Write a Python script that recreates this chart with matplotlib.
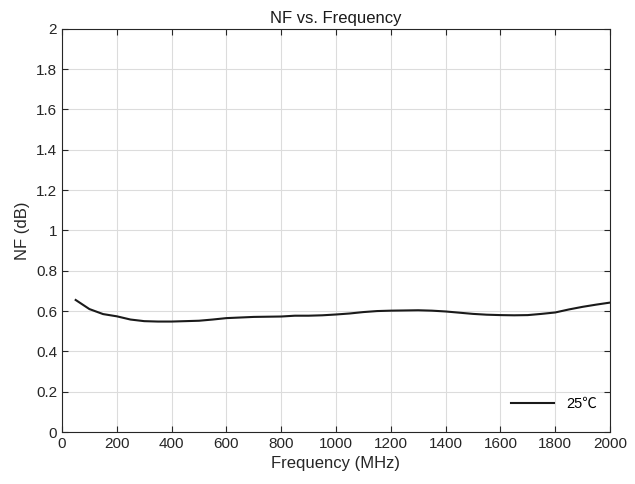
import matplotlib
matplotlib.use("Agg")
import matplotlib.pyplot as plt
import numpy as np

plt.rcParams["font.family"] = ["Liberation Sans", "Noto Sans CJK SC", "DejaVu Sans"]

freq = [50, 100, 150, 200, 250, 300, 350, 400, 450, 500, 550, 600, 650, 700,
        750, 800, 850, 900, 950, 1000, 1050, 1100, 1150, 1200, 1250, 1300,
        1350, 1400, 1450, 1500, 1550, 1600, 1650, 1700, 1750, 1800, 1850,
        1900, 1950, 2000]
nf_25c = [0.655, 0.610, 0.585, 0.574, 0.558, 0.550, 0.548, 0.548, 0.550,
          0.552, 0.558, 0.565, 0.568, 0.571, 0.572, 0.573, 0.577, 0.577,
          0.579, 0.583, 0.588, 0.595, 0.600, 0.602, 0.603, 0.604, 0.602,
          0.598, 0.592, 0.586, 0.582, 0.580, 0.579, 0.580, 0.586, 0.593,
          0.608, 0.621, 0.632, 0.642]

fig = plt.figure(figsize=(6.35, 4.84), dpi=100)
ax = fig.add_axes([0.0976, 0.1074, 0.863, 0.833])

ax.plot(freq, nf_25c, color="#1a1a1a", lw=1.5, label="25℃")

ax.set_xlim(0, 2000)
ax.set_ylim(0, 2)
ax.set_xticks(np.arange(0, 2001, 200))
ax.set_yticks(np.arange(0, 2.01, 0.2))
ax.set_yticklabels(["0", "0.2", "0.4", "0.6", "0.8", "1", "1.2", "1.4", "1.6", "1.8", "2"])
ax.grid(True, color="#dcdcdc", lw=0.8)
ax.set_axisbelow(True)
ax.tick_params(direction="in", length=4, color="#262626", labelsize=11,
               labelcolor="#262626", top=True, right=True)
for s in ax.spines.values():
    s.set_color("#262626")
    s.set_linewidth(0.8)

ax.set_xlabel("Frequency (MHz)", fontsize=12, color="#262626")
ax.set_ylabel("NF (dB)", fontsize=12, color="#262626")
ax.set_title("NF vs. Frequency", fontsize=12, color="#1a1a1a", pad=4)

ax.legend(loc="lower right", frameon=False, fontsize=10.5, handlelength=3.0,
          bbox_to_anchor=(1.0, 0.02))

fig.savefig("out.png", dpi=100)
